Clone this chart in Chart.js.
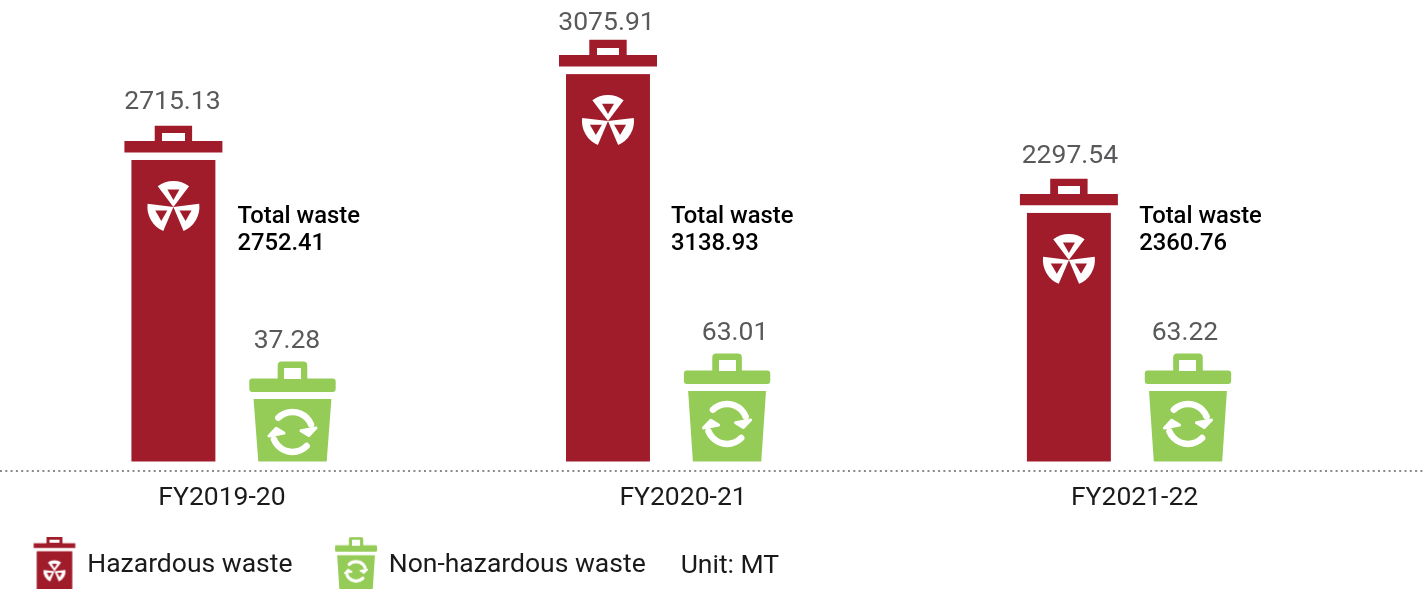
<!DOCTYPE html>
<html><head><meta charset="utf-8"><title>Waste generated</title>
<style>html,body{margin:0;padding:0;background:#fff}canvas{display:block}</style>
<script src="https://cdn.jsdelivr.net/npm/chart.js@4/dist/chart.umd.js"></script>
</head><body><canvas id="c" width="1423" height="589"></canvas>
<script>
// ---- data ----
const categories = ['FY2019-20', 'FY2020-21', 'FY2021-22'];
const hazardous = [2715.13, 3075.91, 2297.54];
const nonHazardous = [37.28, 63.01, 63.22];
const totalWaste = ['2752.41', '3138.93', '2360.76'];
const seriesNames = ['Hazardous waste', 'Non-hazardous waste'];
const unitNote = 'Unit: MT';
const totalCaption = 'Total waste';

// The source pictogram is not drawn to one common scale: every bin has its own
// value range, so each bar gets its own hidden axis (span of that axis).
const hazardAxisSpan = [4237, 3736, 4349];
const nonHazardAxisSpan = [280.3, 420, 421.5];
const baseGapShare = 9 / 470;            // share of each axis below zero

// uneven horizontal rhythm of the source, as shares of the axis width
const barSlots = [0.1637, 0.4691, 0.7930];
const labelSlots = [0.1560, 0.4800, 0.7973];

const RED = '#a01c2b', GREEN = '#95cc58', GREY = '#58595b', INK = '#1a1a1a';
const FONT = 'Roboto';

// ---- pictogram drawing helpers ----
function trefoil(ctx, cx, cy, R, fg, bg) {
  const rad = d => d * Math.PI / 180;
  [-90, 30, 150].forEach(a => {
    ctx.beginPath(); ctx.moveTo(cx, cy);
    ctx.arc(cx, cy, R, rad(a - 37), rad(a + 37)); ctx.closePath();
    ctx.fillStyle = fg; ctx.fill();
    const p = (r, d) => [cx + r * R * Math.cos(rad(a + d)), cy + r * R * Math.sin(rad(a + d))];
    ctx.beginPath(); ctx.moveTo(...p(0.27, 0)); ctx.lineTo(...p(0.71, -19)); ctx.lineTo(...p(0.71, 19)); ctx.closePath();
    ctx.fillStyle = bg; ctx.fill();
  });
}
function recycle(ctx, cx, cy, k, fg) {
  ctx.save(); ctx.translate(cx, cy); ctx.scale(k, k);
  ctx.strokeStyle = fg; ctx.fillStyle = fg; ctx.lineCap = 'round'; ctx.lineJoin = 'round';
  for (let t = 0; t < 2; t++) {
    ctx.lineWidth = 6.5;
    ctx.beginPath(); ctx.arc(0, 0, 20, -135 * Math.PI / 180, -22 * Math.PI / 180); ctx.stroke();
    ctx.lineWidth = 3;
    ctx.beginPath(); ctx.moveTo(8.5, -1.2); ctx.lineTo(23.5, -4); ctx.lineTo(16.3, 3.6); ctx.closePath(); ctx.fill(); ctx.stroke();
    ctx.rotate(Math.PI);
  }
  ctx.restore();
}
function lidPath(ctx, cx, top, halfLid, lidTop, lidBot, halfH, handleTop, halfHole, holeTop, r) {
  ctx.beginPath();
  ctx.roundRect(cx - halfLid, top + lidTop, 2 * halfLid, lidBot - lidTop, r);
  ctx.roundRect(cx - halfH, top + handleTop, 2 * halfH, lidTop - handleTop + 1, [r * 1.3, r * 1.3, 0, 0]);
  ctx.fill();
  ctx.clearRect(cx - halfHole, top + holeTop, 2 * halfHole, lidTop - holeTop);
}
function hazardBin(ctx, cx, top, base, halfW, k, color) {
  ctx.fillStyle = color;
  ctx.fillRect(cx - halfW, top, 2 * halfW, base - top);
  lidPath(ctx, cx, top, 49 * k, -19 * k, -7.6 * k, 18.7 * k, -34.3 * k, 11.3 * k, -26.6 * k, 0);
  trefoil(ctx, cx, top + 47 * k, 26 * k, '#fff', color);
}
function greenBin(ctx, cx, top, base, halfW, k, color) {
  ctx.fillStyle = color;
  ctx.beginPath(); ctx.moveTo(cx - halfW, top); ctx.lineTo(cx + halfW, top);
  ctx.lineTo(cx + halfW * 0.878, base); ctx.lineTo(cx - halfW * 0.878, base); ctx.closePath(); ctx.fill();
  lidPath(ctx, cx, top, 43.2 * k, -20.3 * k, -7 * k, 14.8 * k, -37.3 * k, 8.5 * k, -31 * k, 3 * k);
  recycle(ctx, cx, top + 33 * k, k, '#fff');
}
function legendIcon(kind) {
  const cv = document.createElement('canvas'); cv.width = 46; cv.height = 58;
  const g = cv.getContext('2d');
  if (kind === 0) hazardBin(g, 23, 14.5, 54, 17.8, 0.425, RED);
  else greenBin(g, 23, 18.5, 54, 18.9, 0.487, GREEN);
  return cv;
}

// ---- custom chart pieces: a bar element drawn as a bin, and an uneven category axis ----
class BinBar extends Chart.BarElement {
  static id = 'binBar';
  draw(ctx) {
    ctx.save();
    const paint = this.options.backgroundColor === RED ? hazardBin : greenBin;
    paint(ctx, this.x, this.y, this.base, this.width / 2, 1, this.options.backgroundColor);
    ctx.restore();
  }
}
class BinController extends Chart.BarController {
  static id = 'bin';
  static defaults = { dataElementType: 'binBar' };
}
class SlotScale extends Chart.CategoryScale {
  static id = 'slotCategory';
  getPixelForValue(value) {
    const i = Math.round(typeof value === 'number' ? value : this.parse(value));
    return this.left + this.width * this.options.slots[i];
  }
}
Chart.register(BinBar, BinController, SlotScale);

// ---- one dataset and one hidden value axis per bin ----
const datasets = [], scales = {
  x: { type: 'slotCategory', slots: barSlots, display: false },
  xLabels: {
    type: 'slotCategory', axis: 'x', position: 'bottom', slots: labelSlots,
    grid: { display: false, drawTicks: false }, border: { display: false },
    ticks: { color: INK, font: { family: FONT, size: 26.5 }, padding: 12, autoSkip: false, maxRotation: 0 },
    afterFit: s => { s.height = 38; }
  }
};
function addBins(values, spans, name, color, pct, stack) {
  values.forEach((v, i) => {
    const id = 'y' + stack + i, min = -spans[i] * baseGapShare;
    datasets.push({
      label: name, data: categories.map((_, j) => (j === i ? v : null)), stack, yAxisID: id,
      backgroundColor: color, barPercentage: pct, categoryPercentage: 0.548
    });
    scales[id] = { type: 'linear', display: false, stacked: false, min, max: min + spans[i] };
  });
}
addBins(hazardous, hazardAxisSpan, seriesNames[0], RED, 0.705, 'h');
addBins(nonHazardous, nonHazardAxisSpan, seriesNames[1], GREEN, 0.654, 'n');

// small nudges of the annotations in the source
const hazLabelNudgeX = [-1, -1.5, 1];
const hazLabelNudgeY = [2, 9, 3];
const nonLabelNudgeX = [-5.5, 8, -3];
const totalGap = [22, 21, 28.4];

const annotations = {
  id: 'annotations',
  afterDatasetsDraw(chart) {
    const ctx = chart.ctx, a = chart.chartArea, n = categories.length;
    ctx.save();
    // dotted base line
    const yLine = a.bottom + 0.5;
    ctx.strokeStyle = '#8a8a8a'; ctx.lineWidth = 2; ctx.setLineDash([2, 3.3]);
    ctx.beginPath(); ctx.moveTo(0, yLine); ctx.lineTo(chart.width, yLine); ctx.stroke();
    ctx.setLineDash([]);
    ctx.textBaseline = 'middle';
    categories.forEach((_, i) => {
      const h = chart.getDatasetMeta(i).data[i], g = chart.getDatasetMeta(i + n).data[i];
      ctx.textAlign = 'center'; ctx.fillStyle = GREY; ctx.font = `26.5px ${FONT}`;
      ctx.fillText(hazardous[i].toFixed(2), h.x + hazLabelNudgeX[i], h.y - 60 + hazLabelNudgeY[i]);
      ctx.fillText(nonHazardous[i].toFixed(2), g.x + nonLabelNudgeX[i], g.y - 58);
      ctx.textAlign = 'left'; ctx.fillStyle = '#000'; ctx.font = `500 23.8px ${FONT}`;
      const tx = h.x + h.width / 2 + totalGap[i];
      ctx.fillText(totalCaption, tx, a.top + 217);
      ctx.fillText(totalWaste[i], tx, a.top + 244);
    });
    ctx.restore();
  },
  afterDraw(chart) {
    const ctx = chart.ctx, hb = chart.legend.legendHitBoxes, last = hb[hb.length - 1];
    ctx.save();
    ctx.fillStyle = INK; ctx.font = `26.5px ${FONT}`; ctx.textBaseline = 'middle'; ctx.textAlign = 'left';
    ctx.fillText(unitNote, last.left + last.width + 35, last.top + 13.5);
    ctx.restore();
  }
};

new Chart(document.getElementById('c'), {
  type: 'bin',
  data: { labels: categories, datasets },
  plugins: [annotations],
  options: {
    responsive: false, animation: false, devicePixelRatio: 1,
    layout: { padding: { left: -9, right: 0, top: 0, bottom: 0 } },
    scales,
    plugins: {
      tooltip: { enabled: false },
      title: { display: false },
      legend: {
        position: 'bottom', align: 'start',
        labels: {
          color: INK, font: { family: FONT, size: 26.5 }, padding: 44,
          usePointStyle: true, pointStyleWidth: 39,
          generateLabels: () => seriesNames.map((text, i) => ({
            text, pointStyle: legendIcon(i), fontColor: INK, lineWidth: 0, strokeStyle: 'transparent',
            fillStyle: i ? GREEN : RED, hidden: false, datasetIndex: i * categories.length
          }))
        }
      }
    }
  }
});
</script></body></html>
